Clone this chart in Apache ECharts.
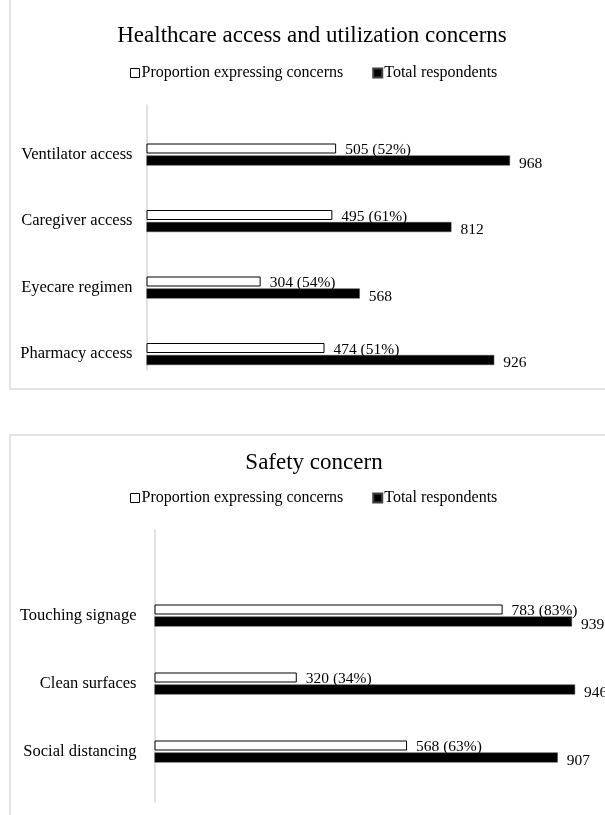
<!DOCTYPE html>
<html>
<head>
<meta charset="utf-8">
<script src="https://cdn.jsdelivr.net/npm/echarts@6/dist/echarts.min.js"></script>
<style>
html,body{margin:0;padding:0;background:#fff;}
#chart{width:605px;height:815px;}
</style>
</head>
<body>
<div id="chart"></div>
<script>
var healthCategories = ['Ventilator access', 'Caregiver access', 'Eyecare regimen', 'Pharmacy access'];
var healthConcern = [505, 495, 304, 474];
var healthConcernPct = [52, 61, 54, 51];
var healthTotal = [968, 812, 568, 926];

var safetyCategories = ['Touching signage', 'Clean surfaces', 'Social distancing'];
var safetyConcern = [783, 320, 568];
var safetyConcernPct = [83, 34, 63];
var safetyTotal = [939, 946, 907];

var seriesNames = ['Proportion expressing concerns', 'Total respondents'];
var titles = ['Healthcare access and utilization concerns', 'Safety concern'];

var FONT = "'Liberation Serif', 'Times New Roman', serif";
var chart = echarts.init(document.getElementById('chart'));

function concernSeries(idx, data, pct) {
  return {
    name: seriesNames[0], type: 'bar', xAxisIndex: idx, yAxisIndex: idx,
    data: data, barWidth: 10, barGap: '20%',
    itemStyle: { color: '#ffffff', borderColor: '#000000', borderWidth: 1 },
    label: {
      show: true, position: 'right', distance: 9, offset: [0, 1.5],
      color: '#000', fontFamily: FONT, fontSize: 15.5,
      formatter: function (p) { return p.value + ' (' + pct[p.dataIndex] + '%)'; }
    },
    silent: true, animation: false
  };
}
function totalSeries(idx, data) {
  return {
    name: seriesNames[1], type: 'bar', xAxisIndex: idx, yAxisIndex: idx,
    data: data, barWidth: 10, barGap: '20%',
    itemStyle: { color: '#000000', borderColor: '#404040', borderWidth: 0.5 },
    label: {
      show: true, position: 'right', distance: 9, offset: [0, 3],
      color: '#000', fontFamily: FONT, fontSize: 15.5
    },
    silent: true, animation: false
  };
}
function legend(top) {
  return {
    top: top, left: 130, padding: 0, itemGap: 29, itemWidth: 9, itemHeight: 9,
    icon: 'rect', selectedMode: false,
    data: [
      { name: seriesNames[0], itemStyle: { color: '#fff', borderColor: '#000', borderWidth: 1 } },
      { name: seriesNames[1], itemStyle: { color: '#000' } }
    ],
    textStyle: { fontFamily: FONT, fontSize: 16, color: '#000', padding: [0, 0, 0, -3] }
  };
}
function catAxis(idx, cats, margin) {
  return {
    type: 'category', gridIndex: idx, data: cats, inverse: true,
    axisLine: { show: false }, axisTick: { show: false },
    axisLabel: { fontFamily: FONT, fontSize: 16.5, color: '#000', margin: margin }
  };
}
function lineAxis(idx) {
  return {
    type: 'value', gridIndex: idx,
    axisLine: { show: true, lineStyle: { color: '#d9d9d9', width: 1.5 } },
    axisTick: { show: false }, axisLabel: { show: false }, splitLine: { show: false }
  };
}
function hiddenX(idx) {
  return { type: 'value', gridIndex: idx, min: 0, max: 1000, show: false, splitLine: { show: false } };
}

var option = {
  backgroundColor: '#fff',
  animation: false,
  title: [
    { text: titles[0], left: 312, textAlign: 'center', top: 24, padding: 0,
      textStyle: { fontFamily: FONT, fontSize: 23, fontWeight: 'normal', color: '#000' } },
    { text: titles[1], left: 314, textAlign: 'center', top: 451, padding: 0,
      textStyle: { fontFamily: FONT, fontSize: 23, fontWeight: 'normal', color: '#000' } }
  ],
  legend: [legend(65), legend(490)],
  grid: [
    { left: 146.5, width: 375.5, top: 121.25, height: 266 },
    { left: 154.5, width: 444.6, top: 581.5, height: 204 },
    { left: 146.5, width: 10, top: 105, height: 265 },
    { left: 154.5, width: 10, top: 530, height: 272 }
  ],
  xAxis: [hiddenX(0), hiddenX(1), hiddenX(2), hiddenX(3)],
  yAxis: [catAxis(0, healthCategories, 14), catAxis(1, safetyCategories, 18), lineAxis(2), lineAxis(3)],
  graphic: [
    { type: 'rect', z: -10, silent: true, shape: { x: 10, y: -20, width: 700, height: 409 },
      style: { fill: 'none', stroke: '#dcdcdc', lineWidth: 1.5 } },
    { type: 'rect', z: -10, silent: true, shape: { x: 10, y: 435, width: 700, height: 500 },
      style: { fill: 'none', stroke: '#dcdcdc', lineWidth: 1.5 } }
  ],
  series: [
    concernSeries(0, healthConcern, healthConcernPct),
    totalSeries(0, healthTotal),
    concernSeries(1, safetyConcern, safetyConcernPct),
    totalSeries(1, safetyTotal)
  ]
};
chart.setOption(option);
</script>
</body>
</html>
